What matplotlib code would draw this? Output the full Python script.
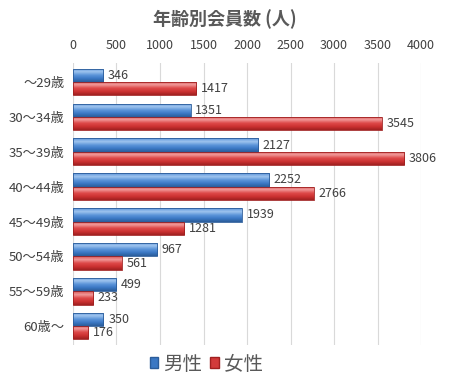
import numpy as np
import matplotlib
matplotlib.use("Agg")
import matplotlib.pyplot as plt
from matplotlib.colors import LinearSegmentedColormap
from matplotlib.patches import Patch

plt.rcParams['font.family'] = ['Noto Sans CJK JP', 'DejaVu Sans']

categories = ['～29歳', '30～34歳', '35～39歳', '40～44歳', '45～49歳', '50～54歳', '55～59歳', '60歳～']
male = [346, 1351, 2127, 2252, 1939, 967, 499, 350]
female = [1417, 3545, 3806, 2766, 1281, 561, 233, 176]
ticks = [0, 500, 1000, 1500, 2000, 2500, 3000, 3500, 4000]

# vertical gradients, top to bottom: highlight near the top, darker bottom
blue_cm = LinearSegmentedColormap.from_list('b', ['#5b93d8', '#9fc4ee', '#5c95da', '#3b78c4', '#2b5c9a'])
red_cm = LinearSegmentedColormap.from_list('r', ['#d95050', '#f09a9a', '#de4a4a', '#cc3232', '#a02020'])

fig = plt.figure(figsize=(4.5, 3.8), dpi=100)
ax = fig.add_axes([0.162, 0.092, 0.774, 0.742])

y = np.arange(len(categories))
h = 0.38
grad = np.linspace(0, 1, 64).reshape(-1, 1)


def gradient_bars(bars, cmap):
    for b in bars:
        x0, y0 = b.get_x(), b.get_y()
        w, hh = b.get_width(), b.get_height()
        im = ax.imshow(grad, cmap=cmap, aspect='auto', extent=[x0, x0 + w, y0 + hh, y0],
                       origin='upper', zorder=3)
        im.set_clip_path(b)


bm = ax.barh(y - h / 2, male, height=h, color='none', edgecolor='#2b5c9a', linewidth=0.6, zorder=4)
bf = ax.barh(y + h / 2, female, height=h, color='none', edgecolor='#a02020', linewidth=0.6, zorder=4)
gradient_bars(bm, blue_cm)
gradient_bars(bf, red_cm)

for i in range(len(categories)):
    ax.text(male[i] + 55, y[i] - h / 2, str(male[i]), va='center', ha='left', fontsize=9, color='#404040')
    ax.text(female[i] + 55, y[i] + h / 2, str(female[i]), va='center', ha='left', fontsize=9, color='#404040')

ax.set_xlim(0, 4000)
ax.set_ylim(7.54, -0.54)
ax.set_xticks(ticks)
ax.set_yticks(y)
ax.set_yticklabels(categories)
ax.xaxis.tick_top()
ax.tick_params(axis='both', length=0, labelsize=9, colors='#404040')
ax.tick_params(axis='y', labelsize=9.5)
ax.tick_params(axis='x', pad=8)
ax.tick_params(axis='y', pad=6)
ax.grid(axis='x', color='#d9d9d9', linewidth=0.8, zorder=0)
ax.set_axisbelow(True)
for s in ax.spines.values():
    s.set_visible(False)

fig.text(0.5, 0.95, '年齢別会員数 (人)', ha='center', va='center', fontsize=13, fontweight='bold', color='#595959')

handles = [Patch(facecolor='#3b78c4', edgecolor='#2b5c9a'), Patch(facecolor='#d23a3a', edgecolor='#a02020')]
fig.legend(handles, ['男性', '女性'], loc='center', bbox_to_anchor=(0.458, 0.042), ncol=2, frameon=False,
           fontsize=14, handlelength=0.45, handleheight=0.45, handletextpad=0.25, columnspacing=0.4,
           labelcolor='#595959')

fig.savefig('out.png', dpi=100)
